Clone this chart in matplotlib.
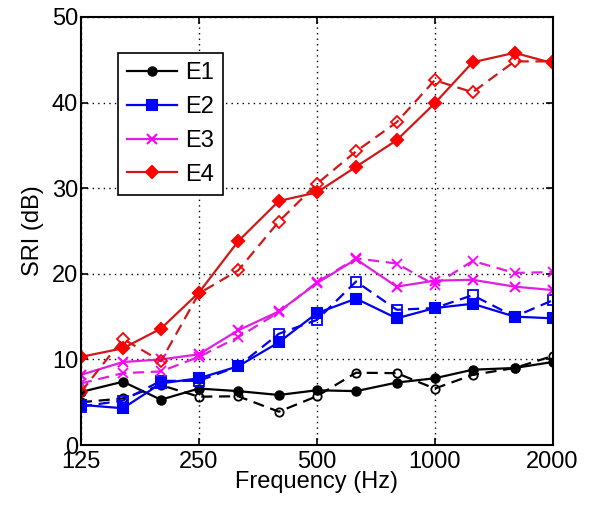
import matplotlib
matplotlib.use("Agg")
import matplotlib.pyplot as plt
import matplotlib.ticker as ticker

plt.rcParams["font.family"] = ["Liberation Sans", "DejaVu Sans"]

freqs = [125, 160, 200, 250, 315, 400, 500, 630, 800, 1000, 1250, 1600, 2000]

e1_solid = [6.2, 7.4, 5.3, 6.6, 6.3, 5.85, 6.4, 6.3, 7.3, 7.8, 8.8, 9.0, 9.7]
e1_dash = [5.0, 5.45, 7.0, 5.65, 5.7, 3.9, 5.7, 8.45, 8.4, 6.6, 8.2, 9.0, 10.4]
e2_solid = [4.7, 4.3, 7.2, 7.8, 9.2, 12.0, 15.4, 17.1, 14.8, 16.0, 16.5, 15.0, 14.8]
e2_dash = [4.5, 5.2, 7.5, 7.5, 9.2, 13.0, 14.6, 19.1, 15.8, 16.0, 17.5, 15.0, 16.9]
e3_solid = [8.2, 9.7, 10.0, 10.6, 13.4, 15.6, 18.9, 21.7, 18.5, 19.2, 19.3, 18.5, 18.1]
e3_dash = [7.2, 8.4, 8.6, 10.3, 12.6, 15.5, 19.0, 21.8, 21.2, 18.7, 21.5, 20.1, 20.2]
e4_solid = [10.3, 11.3, 13.6, 17.8, 23.8, 28.5, 29.5, 32.5, 35.6, 39.9, 44.7, 45.8, 44.6]
e4_dash = [6.2, 12.4, 9.8, 17.7, 20.4, 26.1, 30.5, 34.3, 37.7, 42.6, 41.2, 44.8, 44.8]

FS = 17

fig = plt.figure(figsize=(5.91, 5.11), dpi=100)
ax = fig.add_axes([0.137, 0.129, 0.798, 0.838])

series = [
    ("E1", e1_solid, e1_dash, "black", "black", "o", 6),
    ("E2", e2_solid, e2_dash, "#0000ee", "blue", "s", 7.5),
    ("E3", e3_solid, e3_dash, "#e020e0", "#ff00ff", "x", 7),
    ("E4", e4_solid, e4_dash, "#d01818", "red", "D", 6.5),
]

handles = []
for name, solid, dash, lc, mc, mk, ms in series:
    h, = ax.plot(freqs, solid, "-", color=lc, lw=1.6, marker=mk, ms=ms,
                 mfc=mc, mec=mc, mew=1.5, label=name)
    handles.append(h)
    ax.plot(freqs, dash, "--", color=lc, lw=1.6, marker=mk, ms=ms,
            mfc="none", mec=mc, mew=1.3, dashes=(5, 3))

ax.set_xscale("log")
ax.set_xlim(125, 2000)
ax.set_ylim(0, 50)
ax.set_xticks([125, 250, 500, 1000, 2000])
ax.xaxis.set_major_formatter(ticker.FixedFormatter(["125", "250", "500", "1000", "2000"]))
ax.xaxis.set_minor_locator(ticker.NullLocator())
ax.set_yticks([0, 10, 20, 30, 40, 50])
ax.tick_params(direction="in", length=5, width=1.2, labelsize=FS,
               top=True, right=True, pad=2)
ax.tick_params(axis="x", pad=4)
ax.grid(True, color="black", linestyle=(0, (1, 3)), linewidth=1.0)
for sp in ax.spines.values():
    sp.set_linewidth(1.5)

ax.set_xlabel("Frequency (Hz)", fontsize=FS, labelpad=-1)
ax.set_ylabel("SRI (dB)", fontsize=FS, labelpad=6)

leg = ax.legend(handles=handles, loc="upper left", bbox_to_anchor=(0.078, 0.916),
                fontsize=FS, frameon=True, fancybox=False, framealpha=1,
                edgecolor="black", handlelength=2.1, handletextpad=0.35,
                borderpad=0.4, labelspacing=0.5, borderaxespad=0)
leg.get_frame().set_linewidth(1.2)

fig.savefig("out.png", dpi=100)
